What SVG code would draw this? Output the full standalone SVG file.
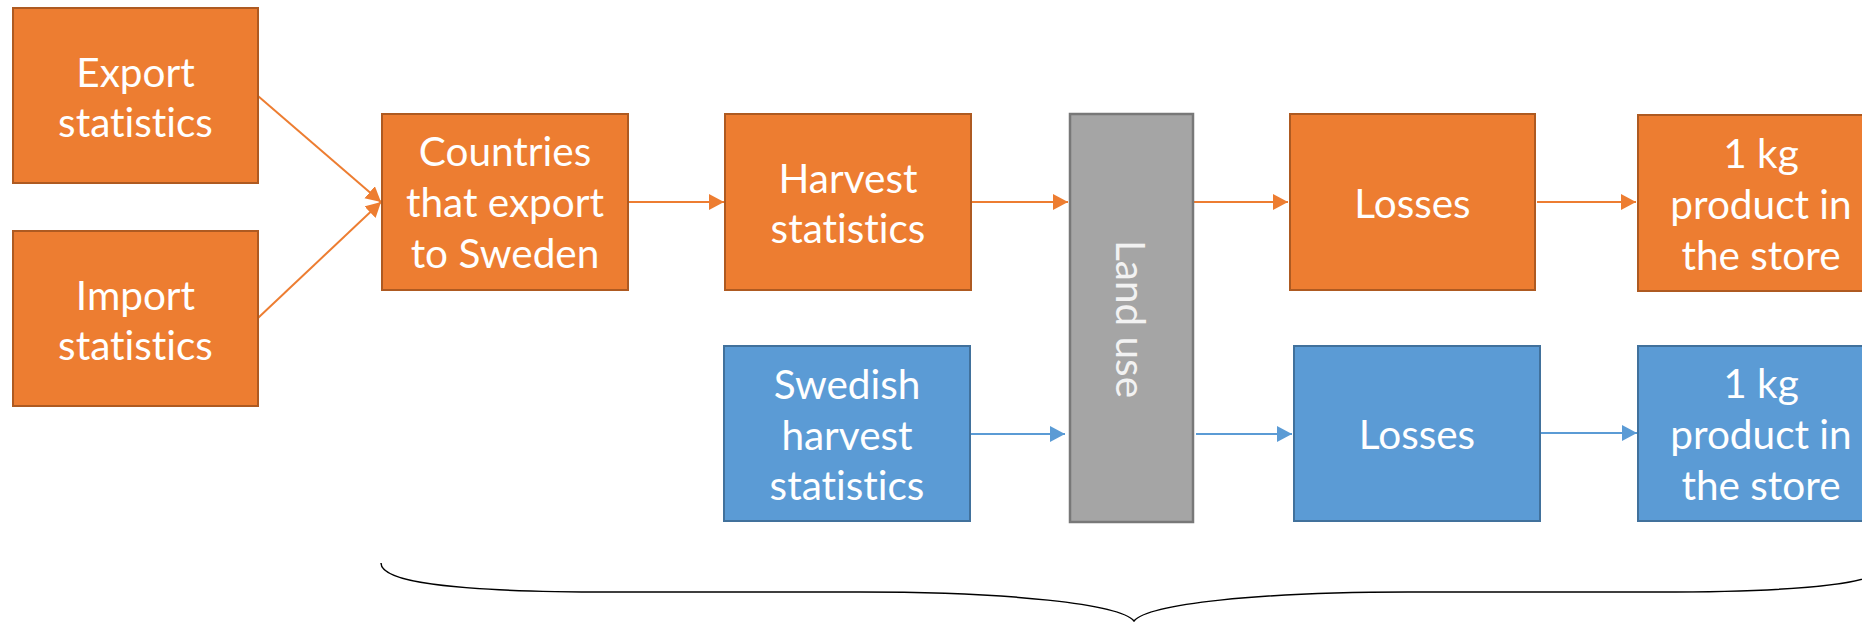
<svg xmlns="http://www.w3.org/2000/svg" width="1862" height="622" viewBox="0 0 1862 622">
<defs>
<style>
.o{fill:#ED7D31;stroke:#AE5A21;stroke-width:2}
.b{fill:#5B9BD5;stroke:#41719C;stroke-width:2}
.g{fill:#A5A5A5;stroke:#787878;stroke-width:2.5}
.t{font-family:Lato,"Liberation Sans",sans-serif;font-size:40.5px;fill:#FFFFFF;text-anchor:middle;font-variant-ligatures:none}
.co{stroke:#ED7D31;stroke-width:2;fill:none}
.cb{stroke:#5B9BD5;stroke-width:2;fill:none}
</style>
<marker id="ao" markerUnits="userSpaceOnUse" markerWidth="16" markerHeight="18" refX="15" refY="8" orient="auto"><path d="M0,0 L15,8 L0,16 Z" fill="#ED7D31"/></marker>
<marker id="ab" markerUnits="userSpaceOnUse" markerWidth="16" markerHeight="18" refX="15" refY="8" orient="auto"><path d="M0,0 L15,8 L0,16 Z" fill="#5B9BD5"/></marker>
</defs>
<g id="connectors">
<line class="co" x1="258" y1="96" x2="381" y2="202" marker-end="url(#ao)"/>
<line class="co" x1="258" y1="318" x2="381" y2="202" marker-end="url(#ao)"/>
<line class="co" x1="628" y1="202" x2="724" y2="202" marker-end="url(#ao)"/>
<line class="co" x1="971" y1="202" x2="1068" y2="202" marker-end="url(#ao)"/>
<line class="co" x1="1193" y1="202" x2="1288" y2="202" marker-end="url(#ao)"/>
<line class="co" x1="1537" y1="202" x2="1636" y2="202" marker-end="url(#ao)"/>
<line class="cb" x1="971" y1="434" x2="1065" y2="434" marker-end="url(#ab)"/>
<line class="cb" x1="1196" y1="434" x2="1292" y2="434" marker-end="url(#ab)"/>
<line class="cb" x1="1541" y1="433" x2="1637" y2="433" marker-end="url(#ab)"/>
</g>
<g id="export">
<rect class="o" x="13" y="8" width="245" height="175"/>
<text class="t" x="135.5" y="87">Export</text>
<text class="t" x="135.5" y="137">statistics</text>
</g>
<g id="import">
<rect class="o" x="13" y="231" width="245" height="175"/>
<text class="t" x="135.5" y="310">Import</text>
<text class="t" x="135.5" y="360">statistics</text>
</g>
<g id="countries">
<rect class="o" x="382" y="114" width="246" height="176"/>
<text class="t" x="505" y="166">Countries</text>
<text class="t" x="505" y="217">that export</text>
<text class="t" x="505" y="268">to Sweden</text>
</g>
<g id="harvest">
<rect class="o" x="725" y="114" width="246" height="176"/>
<text class="t" x="848" y="193">Harvest</text>
<text class="t" x="848" y="243">statistics</text>
</g>
<g id="landuse">
<rect class="g" x="1070" y="114" width="123" height="408"/>
<text class="t" transform="translate(1116,319) rotate(90)" style="fill:#F2F2F2">Land use</text>
</g>
<g id="losses-orange">
<rect class="o" x="1290" y="114" width="245" height="176"/>
<text class="t" x="1412.5" y="218">Losses</text>
</g>
<g id="store-orange">
<rect class="o" x="1638" y="115" width="246" height="176"/>
<text class="t" x="1761" y="168">1 kg</text>
<text class="t" x="1761" y="219">product in</text>
<text class="t" x="1761" y="270">the store</text>
</g>
<g id="swedish">
<rect class="b" x="724" y="346" width="246" height="175"/>
<text class="t" x="847" y="399">Swedish</text>
<text class="t" x="847" y="450">harvest</text>
<text class="t" x="847" y="500">statistics</text>
</g>
<g id="losses-blue">
<rect class="b" x="1294" y="346" width="246" height="175"/>
<text class="t" x="1417" y="449">Losses</text>
</g>
<g id="store-blue">
<rect class="b" x="1638" y="346" width="246" height="175"/>
<text class="t" x="1761" y="398">1 kg</text>
<text class="t" x="1761" y="449">product in</text>
<text class="t" x="1761" y="500">the store</text>
</g>
<g id="brace">
<path d="M381,563 C381,582 450,592 610,592 L860,592 C1010,592 1120,604 1134,621 C1148,604 1258,592 1408,592 L1658,592 C1818,592 1887,582 1887,563" fill="none" stroke="#000000" stroke-width="1.5"/>
</g>
</svg>
